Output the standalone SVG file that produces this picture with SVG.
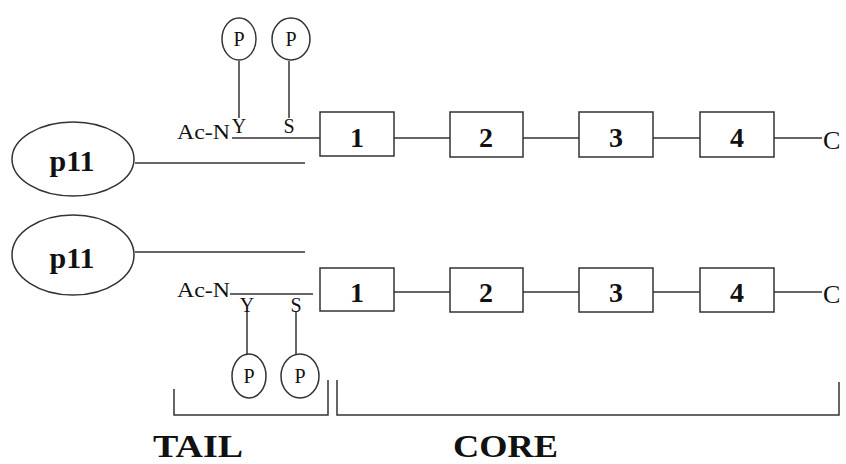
<svg xmlns="http://www.w3.org/2000/svg" width="846" height="464" viewBox="0 0 846 464">
<style>
.ln{stroke:#333;stroke-width:1.5;fill:none}
.bx{stroke:#333;stroke-width:1.5;fill:#fff}
.t{font-family:"Liberation Serif","Times New Roman",serif;fill:#111}
.b{font-weight:bold}
.num{font-family:"Liberation Serif",serif;font-weight:bold;font-size:28px;text-anchor:middle;fill:#111}
.p{font-family:"Liberation Serif",serif;font-size:20px;text-anchor:middle;fill:#111}
</style>
<rect width="846" height="464" fill="#fff"/>
<g id="connectors">
<line class="ln" x1="232" y1="138" x2="320" y2="138"/>
<line class="ln" x1="394" y1="138" x2="450" y2="138"/>
<line class="ln" x1="523" y1="138" x2="579" y2="138"/>
<line class="ln" x1="653" y1="138" x2="700" y2="138"/>
<line class="ln" x1="774" y1="138" x2="822" y2="138"/>
<line class="ln" x1="135" y1="163" x2="305" y2="163"/>
<line class="ln" x1="239" y1="61" x2="239" y2="118"/>
<line class="ln" x1="289" y1="61" x2="289" y2="118"/>
<line class="ln" x1="135" y1="252" x2="305" y2="252"/>
<line class="ln" x1="230" y1="294" x2="313" y2="294"/>
<line class="ln" x1="394" y1="292" x2="450" y2="292"/>
<line class="ln" x1="523" y1="292" x2="579" y2="292"/>
<line class="ln" x1="653" y1="292" x2="700" y2="292"/>
<line class="ln" x1="774" y1="292" x2="822" y2="292"/>
<line class="ln" x1="247" y1="312" x2="247" y2="354"/>
<line class="ln" x1="296" y1="312" x2="296" y2="354"/>
<path class="ln" d="M174 389 V415 H328 V380"/>
<path class="ln" d="M337 380 V415 H839 V382"/>
</g>
<g id="p11-top"><ellipse class="bx" cx="73" cy="159" rx="61" ry="37"/><text class="t b" x="72" y="171" font-size="30" text-anchor="middle">p11</text></g>
<g id="p11-bottom"><ellipse class="bx" cx="73" cy="255" rx="61" ry="40"/><text class="t b" x="72" y="268" font-size="30" text-anchor="middle">p11</text></g>
<g id="tail-top">
<text class="t" x="177" y="139" font-size="20" textLength="53" lengthAdjust="spacingAndGlyphs">Ac-N</text>
<text class="t" x="239" y="133" font-size="20" text-anchor="middle">Y</text>
<text class="t" x="289" y="133" font-size="20" text-anchor="middle">S</text>
</g>
<g id="p-top-1"><ellipse class="bx" cx="239" cy="39" rx="17" ry="21"/><text class="p" x="239" y="46">P</text></g>
<g id="p-top-2"><ellipse class="bx" cx="291" cy="39" rx="19" ry="21"/><text class="p" x="291" y="46">P</text></g>
<g id="tail-bottom">
<text class="t" x="177" y="297" font-size="20" textLength="53" lengthAdjust="spacingAndGlyphs">Ac-N</text>
<text class="t" x="247" y="312" font-size="20" text-anchor="middle">Y</text>
<text class="t" x="296" y="312" font-size="20" text-anchor="middle">S</text>
</g>
<g id="p-bot-1"><ellipse class="bx" cx="249" cy="376" rx="17" ry="22"/><text class="p" x="249" y="383">P</text></g>
<g id="p-bot-2"><ellipse class="bx" cx="300" cy="376" rx="19" ry="22"/><text class="p" x="300" y="383">P</text></g>
<g id="top-1"><rect class="bx" x="320" y="112" width="74" height="44"/><text class="num" x="357" y="147">1</text></g>
<g id="top-2"><rect class="bx" x="450" y="112" width="73" height="45"/><text class="num" x="486" y="147">2</text></g>
<g id="top-3"><rect class="bx" x="579" y="112" width="74" height="45"/><text class="num" x="616" y="147">3</text></g>
<g id="top-4"><rect class="bx" x="700" y="112" width="74" height="45"/><text class="num" x="737" y="147">4</text></g>
<text class="t" x="823" y="149" font-size="26">C</text>
<g id="bot-1"><rect class="bx" x="320" y="268" width="74" height="43"/><text class="num" x="357" y="302">1</text></g>
<g id="bot-2"><rect class="bx" x="450" y="268" width="73" height="44"/><text class="num" x="486" y="302">2</text></g>
<g id="bot-3"><rect class="bx" x="579" y="268" width="74" height="44"/><text class="num" x="616" y="302">3</text></g>
<g id="bot-4"><rect class="bx" x="700" y="268" width="74" height="44"/><text class="num" x="737" y="302">4</text></g>
<text class="t" x="823" y="303" font-size="26">C</text>
<text class="t b" x="153" y="457" font-size="31" textLength="90" lengthAdjust="spacingAndGlyphs">TAIL</text>
<text class="t b" x="453" y="457" font-size="31" textLength="105" lengthAdjust="spacingAndGlyphs">CORE</text>
</svg>
